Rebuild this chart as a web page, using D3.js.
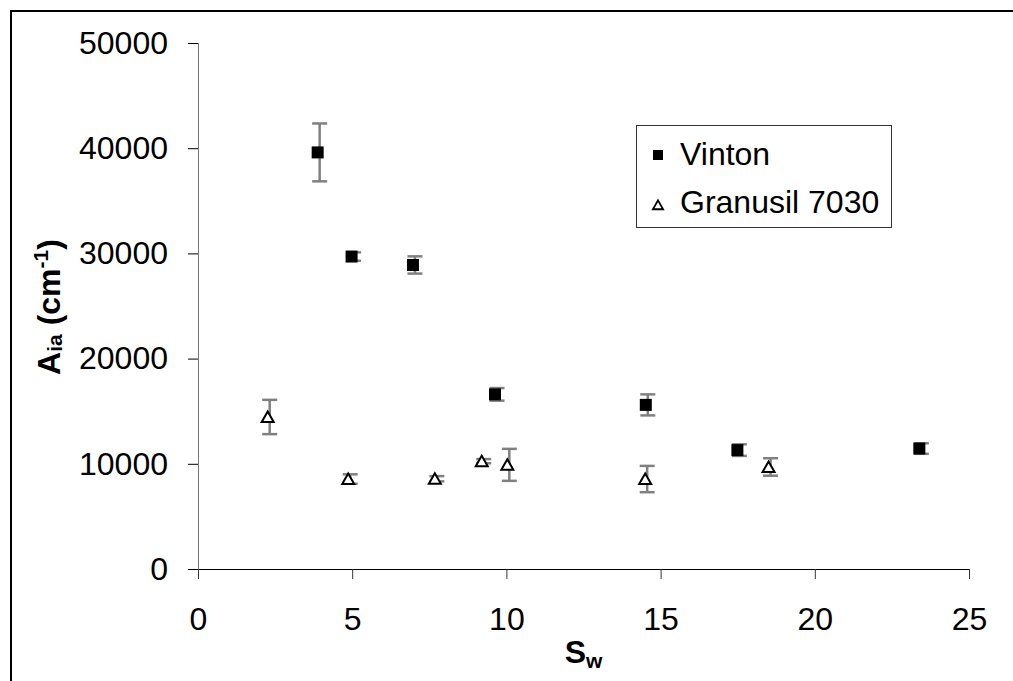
<!DOCTYPE html>
<html>
<head>
<meta charset="utf-8">
<script src="https://cdn.jsdelivr.net/npm/d3@7"></script>
<style>
  body { margin: 0; background: #fff; }
  svg { display: block; font-family: "Liberation Sans", Arial, sans-serif; }
</style>
</head>
<body>
<script>
// Vinton (filled squares)
const vintonX = [3.88, 4.98, 6.97, 9.63, 14.52, 17.49, 23.39];
const vintonY = [39600, 29700, 28900, 16600, 15600, 11300, 11450];
const vintonErr = [2750, 400, 820, 600, 1000, 550, 500];

// Granusil 7030 (open triangles)
const granX = [2.26, 4.87, 7.68, 9.2, 10.03, 14.5, 18.5];
const granY = [14450, 8550, 8580, 10250, 9900, 8550, 9700];
const granErr = [1630, 450, 250, 200, 1520, 1250, 830];

const xTicks = [0, 5, 10, 15, 20, 25];
const yTicks = [0, 10000, 20000, 30000, 40000, 50000];
const seriesNames = ["Vinton", "Granusil 7030"];

const width = 1013;
const height = 681;
const margin = { top: 43, right: 44, bottom: 112, left: 198 };

const svg = d3.select("body")
  .append("svg")
  .attr("width", width)
  .attr("height", height);

// outer frame (runs off the right and bottom edges)
svg.append("rect")
  .attr("x", 11)
  .attr("y", 11)
  .attr("width", 1010)
  .attr("height", 690)
  .attr("fill", "none")
  .attr("stroke", "#000")
  .attr("stroke-width", 2);

const x = d3.scaleLinear()
  .domain([0, 25])
  .range([margin.left, width - margin.right]);

const y = d3.scaleLinear()
  .domain([0, 50000])
  .range([height - margin.bottom, margin.top]);

// y axis
const yAxis = svg.append("g")
  .attr("transform", `translate(${margin.left},0)`)
  .call(d3.axisLeft(y).tickValues(yTicks).tickFormat(d3.format("d")).tickSize(10).tickPadding(20));
yAxis.select(".domain").attr("stroke", "#777").attr("d", `M0.5,${y(0)}V${y(50000)}`);
yAxis.selectAll(".tick line").attr("stroke", "#000");
yAxis.selectAll(".tick text").attr("font-size", 32).attr("fill", "#000");

// x axis
const xAxis = svg.append("g")
  .attr("transform", `translate(0,${y(0)})`)
  .call(d3.axisBottom(x).tickValues(xTicks).tickSize(10).tickPadding(28));
xAxis.select(".domain").attr("stroke", "#000").attr("d", `M${x(0)},0.5H${x(25)}`);
xAxis.selectAll(".tick line").attr("stroke", "#333");
xAxis.selectAll(".tick text").attr("font-size", 32).attr("fill", "#000");

// error bars (drawn under the markers)
function errorBars(xs, ys, errs, cls) {
  const data = xs.map((d, i) => ({ x: d, y: ys[i], e: errs[i] }));
  const g = svg.append("g").attr("class", cls)
    .attr("stroke", "#808080").attr("stroke-width", 2.5).attr("fill", "none");
  const bar = g.selectAll("g").data(data).enter().append("g")
    .attr("transform", d => `translate(${x(d.x) + 2},0)`);
  bar.append("line")
    .attr("x1", 0).attr("x2", 0)
    .attr("y1", d => y(d.y + d.e))
    .attr("y2", d => y(d.y - d.e));
  bar.append("line")
    .attr("x1", -7.5).attr("x2", 7.5)
    .attr("y1", d => y(d.y + d.e)).attr("y2", d => y(d.y + d.e));
  bar.append("line")
    .attr("x1", -7.5).attr("x2", 7.5)
    .attr("y1", d => y(d.y - d.e)).attr("y2", d => y(d.y - d.e));
}
errorBars(vintonX, vintonY, vintonErr, "err-vinton");
errorBars(granX, granY, granErr, "err-gran");

const triPath = s => `M0,${-5.5 * s}L${6 * s},${5 * s}L${-6 * s},${5 * s}Z`;

// Vinton squares
svg.append("g")
  .selectAll("rect")
  .data(vintonX.map((d, i) => [d, vintonY[i]]))
  .enter()
  .append("rect")
  .attr("x", d => x(d[0]) - 6)
  .attr("y", d => y(d[1]) - 6)
  .attr("width", 12)
  .attr("height", 12)
  .attr("fill", "#000");

// Granusil triangles
svg.append("g")
  .selectAll("path")
  .data(granX.map((d, i) => [d, granY[i]]))
  .enter()
  .append("path")
  .attr("d", triPath(1))
  .attr("transform", d => `translate(${x(d[0])},${y(d[1])})`)
  .attr("fill", "#fff")
  .attr("stroke", "#000")
  .attr("stroke-width", 2);

// legend
const legend = svg.append("g");
legend.append("rect")
  .attr("x", 636.5)
  .attr("y", 125.5)
  .attr("width", 255)
  .attr("height", 102)
  .attr("fill", "#fff")
  .attr("stroke", "#333")
  .attr("stroke-width", 1);
legend.append("rect")
  .attr("x", 653).attr("y", 150)
  .attr("width", 10).attr("height", 10)
  .attr("fill", "#000");
legend.append("path")
  .attr("d", triPath(0.85))
  .attr("transform", "translate(658,205)")
  .attr("fill", "#fff")
  .attr("stroke", "#000")
  .attr("stroke-width", 1.8);
legend.selectAll("text")
  .data(seriesNames)
  .enter()
  .append("text")
  .attr("x", 680)
  .attr("y", (d, i) => 165 + i * 48)
  .attr("font-size", 32)
  .attr("fill", "#000")
  .text(d => d);

// y title
const yTitle = svg.append("text")
  .attr("transform", "translate(60,307) rotate(-90)")
  .attr("text-anchor", "middle")
  .attr("font-weight", "bold")
  .attr("font-size", 32)
  .attr("fill", "#000");
yTitle.append("tspan").text("A");
yTitle.append("tspan").attr("font-size", 21).attr("dy", 2).text("ia");
yTitle.append("tspan").attr("dy", -2).text(" (cm");
yTitle.append("tspan").attr("font-size", 21).attr("dy", -12).text("-1");
yTitle.append("tspan").attr("dy", 12).text(")");

// x title
const xTitle = svg.append("text")
  .attr("x", (x(0) + x(25)) / 2)
  .attr("y", 663)
  .attr("text-anchor", "middle")
  .attr("font-weight", "bold")
  .attr("font-size", 32)
  .attr("fill", "#000");
xTitle.append("tspan").text("S");
xTitle.append("tspan").attr("font-size", 21).attr("dy", 5).text("w");
</script>
</body>
</html>
